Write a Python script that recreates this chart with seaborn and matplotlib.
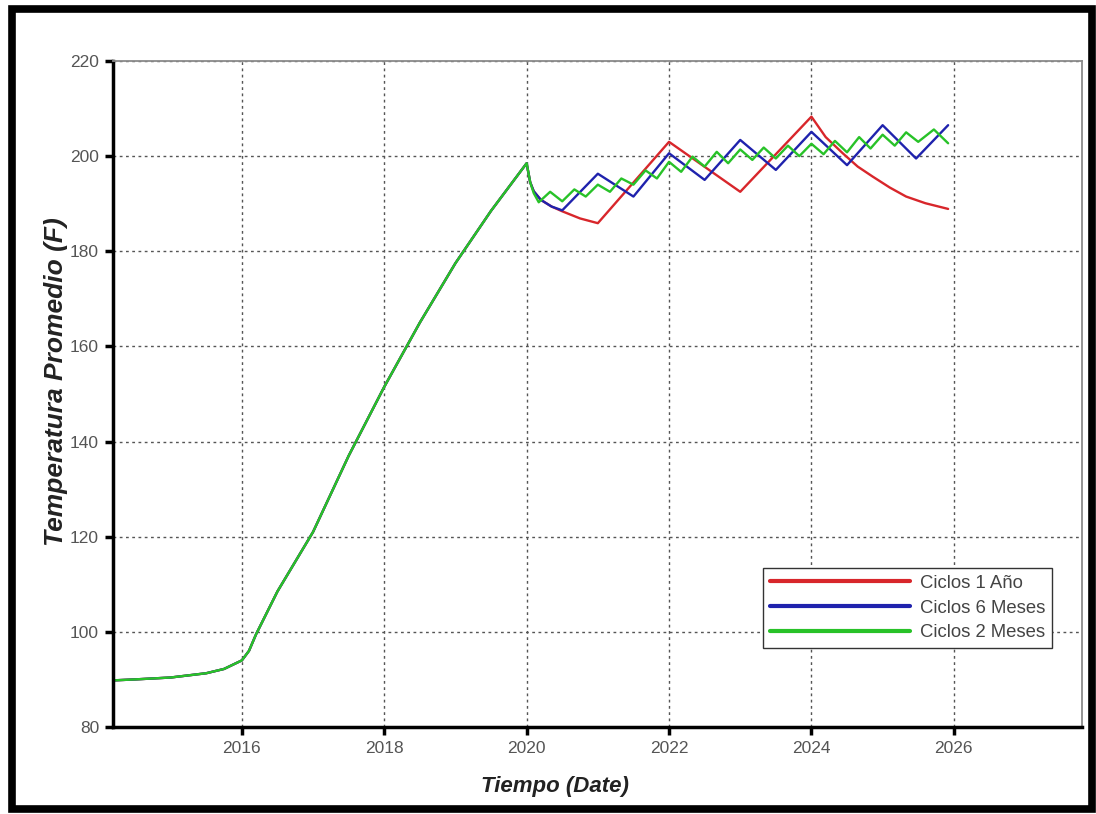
import matplotlib
matplotlib.use("Agg")
import matplotlib.pyplot as plt
import numpy as np
import pandas as pd
import seaborn as sns
from matplotlib.patches import Rectangle
from matplotlib.lines import Line2D

# ---- data ----
base_t = [2014.2, 2014.5, 2015.0, 2015.5, 2015.75, 2016.0, 2016.1, 2016.2,
          2016.5, 2017.0, 2017.5, 2018.0, 2018.5, 2019.0, 2019.5, 2020.0]
base_y = [89.8, 90.0, 90.4, 91.3, 92.2, 94.0, 96.0, 99.5,
          108.5, 121.0, 137.0, 151.5, 165.0, 177.5, 188.5, 198.5]

red_t = [2020.05, 2020.1, 2020.2, 2020.35, 2020.5, 2020.75, 2021.0, 2022.0, 2023.0,
         2024.0, 2024.2, 2024.44, 2024.65, 2024.86, 2025.1, 2025.33, 2025.6, 2025.92]
red_y = [194.5, 192.6, 190.8, 189.4, 188.4, 186.9, 185.9, 203.0, 192.5,
         208.3, 204.0, 200.6, 197.8, 195.7, 193.4, 191.5, 190.1, 188.9]

blue_t = [2020.05, 2020.1, 2020.2, 2020.35, 2020.5, 2021.0, 2021.5, 2022.0, 2022.5,
          2023.0, 2023.5, 2024.0, 2024.5, 2025.0, 2025.47, 2025.92]
blue_y = [194.5, 192.6, 190.8, 189.4, 188.6, 196.3, 191.5, 200.6, 195.0,
          203.4, 197.1, 205.1, 198.1, 206.5, 199.5, 206.5]

green_t = [2020.05, 2020.1, 2020.17, 2020.33, 2020.5, 2020.67, 2020.83, 2021.0,
           2021.17, 2021.33, 2021.5, 2021.67, 2021.83, 2022.0, 2022.17, 2022.33,
           2022.5, 2022.67, 2022.83, 2023.0, 2023.17, 2023.33, 2023.5, 2023.67,
           2023.83, 2024.0, 2024.17, 2024.33, 2024.5, 2024.67, 2024.83, 2025.0,
           2025.17, 2025.33, 2025.5, 2025.72, 2025.92]
green_y = [194.5, 192.2, 190.3, 192.5, 190.5, 193.0, 191.5, 194.0,
           192.5, 195.3, 194.0, 197.0, 195.3, 198.8, 196.7, 199.9,
           197.8, 200.9, 198.5, 201.4, 199.2, 201.8, 199.5, 202.2,
           200.0, 202.6, 200.4, 203.2, 200.8, 204.0, 201.6, 204.5,
           202.2, 205.0, 203.0, 205.6, 202.7]

series_names = ["Ciclos 1 Año", "Ciclos 6 Meses", "Ciclos 2 Meses"]
series_t = [red_t, blue_t, green_t]
series_y = [red_y, blue_y, green_y]
colors = ["#d8262b", "#1f22ad", "#28c228"]

y_ticks = [80, 100, 120, 140, 160, 180, 200, 220]
x_ticks = [2016, 2018, 2020, 2022, 2024, 2026]

rows = []
for name, t, y in zip(series_names, series_t, series_y):
    for i, (tt, yy) in enumerate(zip(base_t + t, base_y + y)):
        rows.append({"serie": name, "t": tt, "temp": yy, "idx": i})
df = pd.DataFrame(rows)

# ---- style ----
sns.set_theme(style="white")
plt.rcParams["font.family"] = ["Liberation Sans", "DejaVu Sans"]

fig = plt.figure(figsize=(10.96, 8.14), dpi=100)
ax = fig.add_axes([0.1031, 0.1069, 0.8841, 0.8182])

sns.lineplot(data=df, x="t", y="temp", hue="serie", hue_order=series_names,
             palette=dict(zip(series_names, colors)), sort=False,
             estimator=None, linewidth=1.7, ax=ax, legend=False)

ax.set_xlim(2014.19, 2027.8)
ax.set_ylim(80, 220)
ax.set_xticks(x_ticks)
ax.set_xticklabels([str(v) for v in x_ticks])
ax.set_yticks(y_ticks)
ax.set_yticklabels([str(v) for v in y_ticks])

ax.grid(True, which="major", color="#555555", linestyle=(0, (2.0, 2.5)), linewidth=1.0)
ax.set_axisbelow(True)

for side in ["left", "bottom"]:
    ax.spines[side].set_color("black")
    ax.spines[side].set_linewidth(2.5)
for side in ["top", "right"]:
    ax.spines[side].set_color("#8a8a8a")
    ax.spines[side].set_linewidth(1.3)

ax.tick_params(axis="both", which="major", direction="out", length=6, width=2.5,
               color="black", labelcolor="#555555", labelsize=12.5, pad=4,
               left=True, bottom=True)

ax.set_xlabel("Tiempo (Date)", fontsize=16, fontweight="bold", fontstyle="italic", color="#222222")
ax.set_ylabel("Temperatura Promedio (F)", fontsize=19, fontweight="bold", fontstyle="italic", color="#222222")
ax.xaxis.set_label_coords(0.456, -0.073)
ax.yaxis.set_label_coords(-0.046, 0.518)

handles = [Line2D([0], [0], color=c, lw=3) for c in colors]
leg = ax.legend(handles, series_names, loc="upper right", bbox_to_anchor=(0.969, 0.239),
                fontsize=13.3, handlelength=7.6, frameon=True, fancybox=False,
                framealpha=1, edgecolor="#333333", borderpad=0.38, labelspacing=0.42,
                handletextpad=0.5, borderaxespad=0)
leg.get_frame().set_linewidth(1.0)
for txt in leg.get_texts():
    txt.set_color("#444444")

# outer black frame
fig.patches.append(Rectangle((12 / 1096, 5 / 814), 1080 / 1096, 800 / 814,
                             transform=fig.transFigure, fill=False,
                             edgecolor="black", linewidth=5.5, zorder=10))

fig.savefig("out.png", dpi=100)
